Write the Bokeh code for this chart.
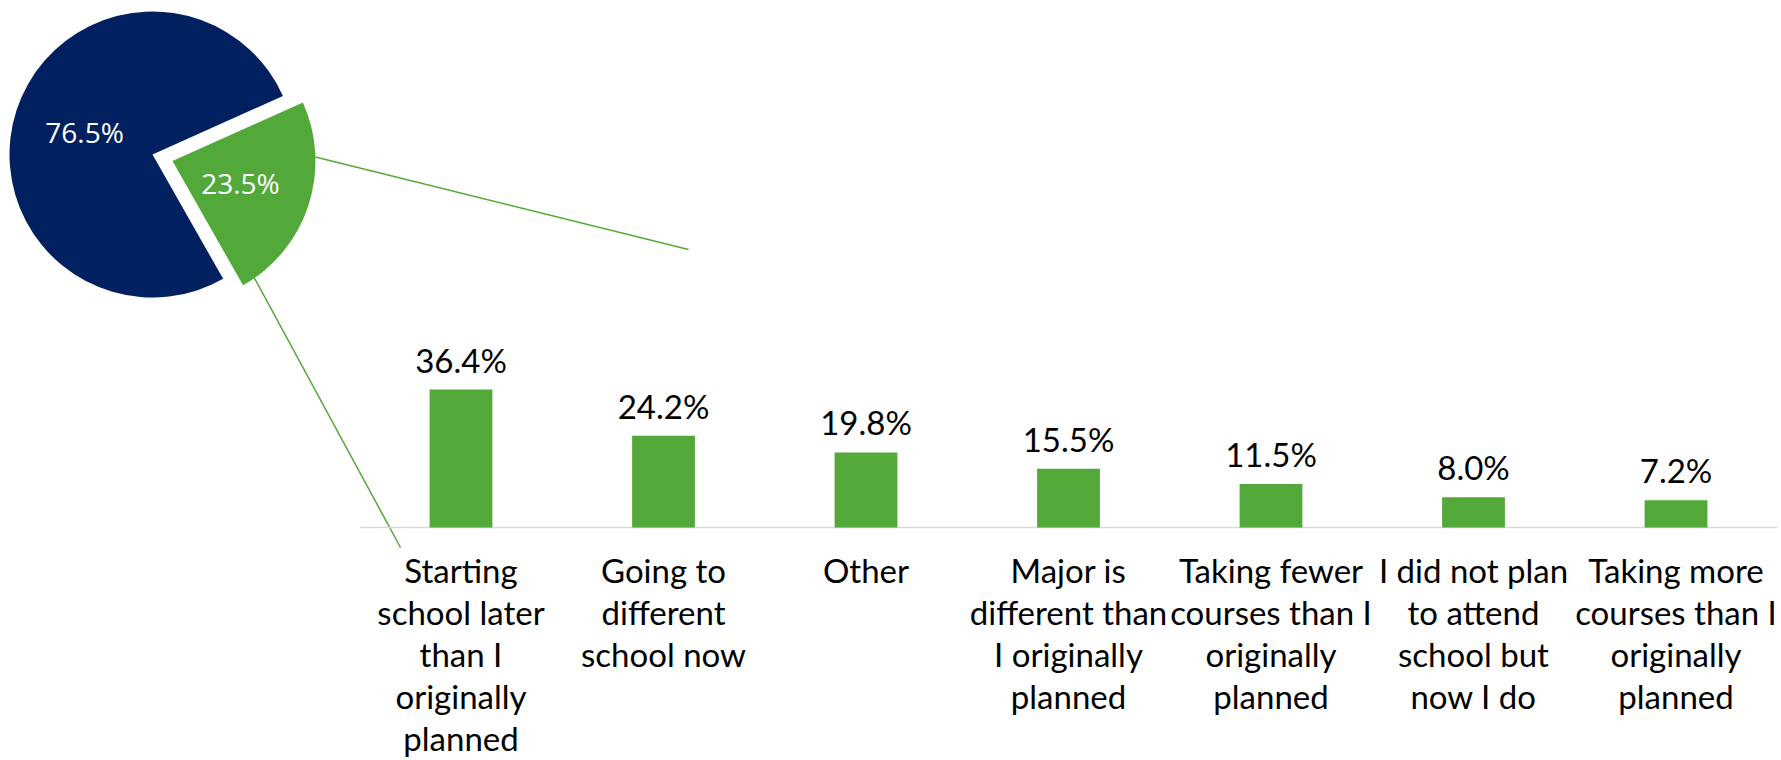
import math
from bokeh.plotting import figure
from bokeh.models import Range1d, ColumnDataSource
from bokeh.core.properties import value
from bokeh.embed import file_html
from bokeh.resources import INLINE

# ---------------- data ----------------
pie_names = ["Same plans", "Changed plans"]
pie_values = [76.5, 23.5]
pie_colors = ["#002060", "#52A939"]

categories = [
    "Starting school later than I originally planned",
    "Going to different school now",
    "Other",
    "Major is different than I originally planned",
    "Taking fewer courses than I originally planned",
    "I did not plan to attend school but now I do",
    "Taking more courses than I originally planned",
]
tick_labels = [
    "Starting\nschool later\nthan I\noriginally\nplanned",
    "Going to\ndifferent\nschool now",
    "Other",
    "Major is\ndifferent than\nI originally\nplanned",
    "Taking fewer\ncourses than I\noriginally\nplanned",
    "I did not plan\nto attend\nschool but\nnow I do",
    "Taking more\ncourses than I\noriginally\nplanned",
]
bar_values = [36.4, 24.2, 19.8, 15.5, 11.5, 8.0, 7.2]

# ---------------- layout ----------------
W, H = 1781, 760
ORIGIN = 0
CAT_PX = 202.5          # pixels per category
FIRST_CAT_PX = 460.5    # page x of first category centre
VAL_PX = 3.79           # pixels per percent
BASE_PX = 527           # page y of the bar baseline

x0 = -(FIRST_CAT_PX - ORIGIN) / CAT_PX
x1 = x0 + W / CAT_PX
y1 = (BASE_PX - ORIGIN) / VAL_PX
y0 = y1 - H / VAL_PX

def px_x(px):
    return x0 + (px - ORIGIN) / CAT_PX

def px_y(py):
    return y1 - (py - ORIGIN) / VAL_PX

p = figure(width=W, height=H, x_range=Range1d(x0, x1), y_range=Range1d(y0, y1),
           output_backend="svg", toolbar_location=None, min_border=0)
p.axis.visible = False
p.grid.visible = False
p.outline_line_color = None
p.background_fill_color = "white"
p.border_fill_color = "white"

# ---------------- pie ----------------
PIE_CX, PIE_CY, PIE_R = 152, 154, 143
EXPLODE = 21
GREEN_END_DEG = 24.2

total = sum(pie_values)
green_span = pie_values[1] / total * 2 * math.pi
navy_span = pie_values[0] / total * 2 * math.pi
g_end = math.radians(GREEN_END_DEG)
g_start = g_end - green_span
n_start = g_end
n_end = g_end + navy_span
g_mid = (g_start + g_end) / 2
n_mid = (n_start + n_end) / 2

gcx = PIE_CX + EXPLODE * math.cos(g_mid)
gcy = PIE_CY - EXPLODE * math.sin(g_mid)

pie_src = ColumnDataSource(dict(
    x=[px_x(PIE_CX), px_x(gcx)],
    y=[px_y(PIE_CY), px_y(gcy)],
    start=[n_start, g_start],
    end=[n_end, g_end],
    color=pie_colors,
    label=[f"{v:.1f}%" for v in pie_values],
    xo=[0.5 * PIE_R * math.cos(n_mid), 0.5 * PIE_R * math.cos(g_mid)],
    yo=[-0.5 * PIE_R * math.sin(n_mid), -0.5 * PIE_R * math.sin(g_mid)],
))
p.wedge(x="x", y="y", radius=PIE_R, radius_units="screen",
        start_angle="start", end_angle="end", fill_color="color",
        line_color=None, source=pie_src)
p.text(x="x", y="y", text="label", x_offset="xo", y_offset="yo",
       text_color="white", text_font=value("Open Sans"), text_font_size="28px",
       text_align="center", text_baseline="middle", source=pie_src)

# connector lines from exploded slice to bar area
TOP_ANG, BOT_ANG = math.radians(1.6), math.radians(-55)
TOP_END = (688, 249)
BOT_END = (400, 547)
sx = [gcx + PIE_R * math.cos(TOP_ANG), gcx + PIE_R * math.cos(BOT_ANG)]
sy = [gcy - PIE_R * math.sin(TOP_ANG), gcy - PIE_R * math.sin(BOT_ANG)]
p.segment(x0=[px_x(v) for v in sx], y0=[px_y(v) for v in sy],
          x1=[px_x(TOP_END[0]), px_x(BOT_END[0])],
          y1=[px_y(TOP_END[1]), px_y(BOT_END[1])],
          line_color=pie_colors[1], line_width=1.5)

# ---------------- bars ----------------
idx = list(range(len(categories)))
bar_src = ColumnDataSource(dict(
    x=idx, top=bar_values, label=[f"{v:.1f}%" for v in bar_values],
    tick=tick_labels,
))
p.segment(x0=[-0.5], y0=[0], x1=[len(categories) - 0.5], y1=[0],
          line_color="#d9d9d9", line_width=1.5)
p.vbar(x="x", top="top", bottom=0, width=0.31, fill_color=pie_colors[1],
       line_color=None, source=bar_src)
p.text(x="x", y="top", text="label", y_offset=-30, text_align="center",
       text_baseline="alphabetic", text_font=value("Lato"),
       text_font_size="33px", text_color="black", source=bar_src)
p.text(x="x", y=0, text="tick", y_offset=22, text_align="center",
       text_baseline="top", text_font=value("Lato"), text_font_size="33px",
       text_line_height=1.053, text_color="black", source=bar_src)

open("out.html", "w").write(file_html(p, INLINE))
